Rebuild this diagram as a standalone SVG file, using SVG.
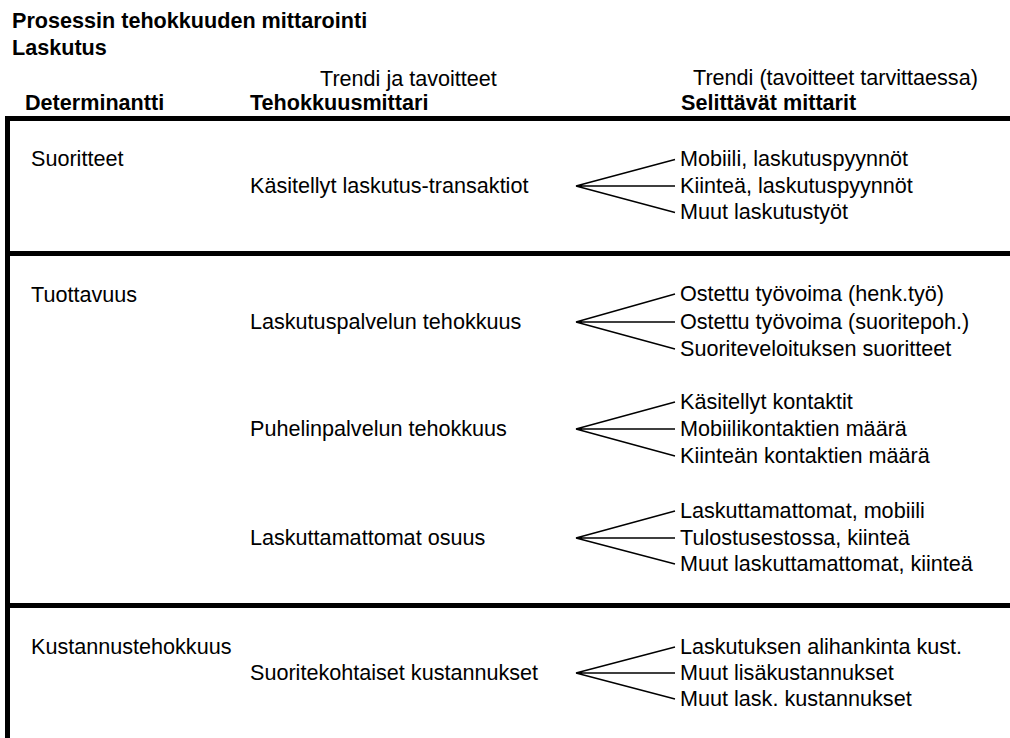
<svg xmlns="http://www.w3.org/2000/svg" width="1010" height="738" viewBox="0 0 1010 738">
<style>
text{font-family:"Liberation Sans",Arial,sans-serif;font-size:21.6px;fill:#000}
.b{font-weight:bold}
.frame{stroke:#000;stroke-width:5;fill:none}
.fan{stroke:#000;stroke-width:1.4;fill:none}
</style>
<rect width="1010" height="738" fill="#fff"/>
<g id="header">
<text class="b" x="12" y="28">Prosessin tehokkuuden mittarointi</text>
<text class="b" x="12" y="55">Laskutus</text>
<text x="320" y="86">Trendi ja tavoitteet</text>
<text x="693" y="85">Trendi (tavoitteet tarvittaessa)</text>
<text class="b" x="25" y="110">Determinantti</text>
<text class="b" x="250" y="110">Tehokkuusmittari</text>
<text class="b" x="681" y="110">Selittävät mittarit</text>
</g>
<g id="frame">
<line class="frame" x1="5" y1="118.5" x2="1010" y2="118.5"/>
<line class="frame" x1="5" y1="253.5" x2="1010" y2="253.5"/>
<line class="frame" x1="5" y1="605.5" x2="1010" y2="605.5"/>
<line class="frame" x1="7.5" y1="116" x2="7.5" y2="738"/>
</g>
<g id="det-suoritteet"><text x="31" y="166">Suoritteet</text></g>
<g id="det-tuottavuus"><text x="31" y="302">Tuottavuus</text></g>
<g id="det-kustannus"><text x="31" y="654">Kustannustehokkuus</text></g>
<g id="m1"><text x="250" y="193">Käsitellyt laskutus-transaktiot</text></g>
<g id="m2"><text x="250" y="329">Laskutuspalvelun tehokkuus</text></g>
<g id="m3"><text x="250" y="436">Puhelinpalvelun tehokkuus</text></g>
<g id="m4"><text x="250" y="545">Laskuttamattomat osuus</text></g>
<g id="m5"><text x="250" y="680">Suoritekohtaiset kustannukset</text></g>
<g id="s1">
<text x="680" y="166">Mobiili, laskutuspyynnöt</text>
<text x="680" y="193">Kiinteä, laskutuspyynnöt</text>
<text x="680" y="219">Muut laskutustyöt</text>
</g>
<g id="s2">
<text x="680" y="301">Ostettu työvoima (henk.työ)</text>
<text x="680" y="329">Ostettu työvoima (suoritepoh.)</text>
<text x="680" y="356">Suoriteveloituksen suoritteet</text>
</g>
<g id="s3">
<text x="680" y="409">Käsitellyt kontaktit</text>
<text x="680" y="436">Mobiilikontaktien määrä</text>
<text x="680" y="463">Kiinteän kontaktien määrä</text>
</g>
<g id="s4">
<text x="680" y="518">Laskuttamattomat, mobiili</text>
<text x="680" y="545">Tulostusestossa, kiinteä</text>
<text x="680" y="571">Muut laskuttamattomat, kiinteä</text>
</g>
<g id="s5">
<text x="680" y="654">Laskutuksen alihankinta kust.</text>
<text x="680" y="680">Muut lisäkustannukset</text>
<text x="680" y="706">Muut lask. kustannukset</text>
</g>
<g id="connectors">
<path class="fan" d="M675,159.5 L576,186 L675,186 M576,186 L675,212.5"/>
<path class="fan" d="M675,294 L576,322 L675,322 M576,322 L675,349"/>
<path class="fan" d="M675,402 L576,429 L675,429 M576,429 L675,456"/>
<path class="fan" d="M675,511 L576,538 L675,538 M576,538 L675,564"/>
<path class="fan" d="M675,647 L576,673 L675,673 M576,673 L675,699"/>
</g>
</svg>
